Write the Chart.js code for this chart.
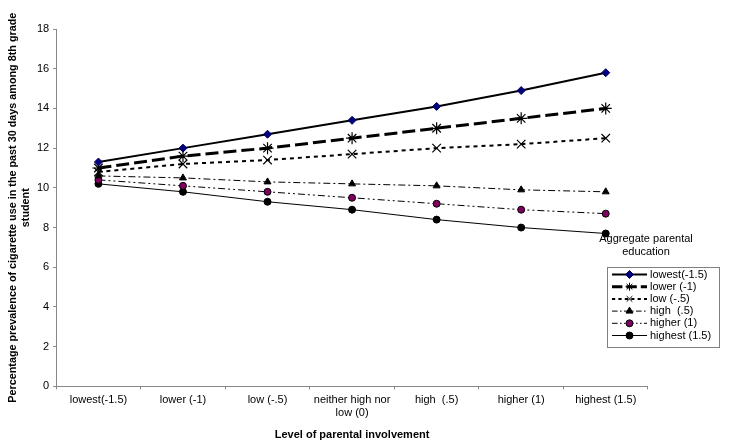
<!DOCTYPE html>
<html>
<head>
<meta charset="utf-8">
<script src="https://cdn.jsdelivr.net/npm/chart.js@4"></script>
<style>
html,body{margin:0;padding:0;background:#fff;}
#wrap{width:729px;height:447px;position:relative;}
</style>
</head>
<body>
<div id="wrap"><canvas id="c"></canvas></div>
<script>
const categories = ["lowest(-1.5)", "lower (-1)", "low (-.5)", ["neither high nor", "low (0)"], "high  (.5)", "higher (1)", "highest (1.5)"];
const seriesNames = ["lowest(-1.5)", "lower (-1)", "low (-.5)", "high  (.5)", "higher (1)", "highest (1.5)"];
const lowestVals  = [11.3, 12.0, 12.7, 13.4, 14.1, 14.9, 15.8];
const lowerVals   = [11.0, 11.6, 12.0, 12.5, 13.0, 13.5, 14.0];
const lowVals     = [10.8, 11.2, 11.4, 11.7, 12.0, 12.2, 12.5];
const highVals    = [10.6, 10.5, 10.3, 10.2, 10.1, 9.9, 9.8];
const higherVals  = [10.4, 10.1, 9.8, 9.5, 9.2, 8.9, 8.7];
const highestVals = [10.2, 9.8, 9.3, 8.9, 8.4, 8.0, 7.7];
const yTitle = ["Percentage prevalence of cigarette use in the past 30 days among 8th grade", "student"];
const xTitle = "Level of parental involvement";
const legendTitle = ["Aggregate parental", "education"];

const FONT = "'Liberation Sans', Arial, sans-serif";

const styles = [
  {borderWidth: 2, borderDash: [], pointStyle: 'rectRot', pointRadius: 4, pointBackgroundColor: '#000080', pointBorderColor: '#000050'},
  {borderWidth: 3, borderDash: [13, 5], pointStyle: 'star', pointRadius: 6, pointBackgroundColor: '#000', pointBorderColor: '#000'},
  {borderWidth: 2, borderDash: [4, 4], pointStyle: 'crossRot', pointRadius: 6, pointBackgroundColor: '#000', pointBorderColor: '#000'},
  {borderWidth: 1, borderDash: [7, 3, 2, 3], pointStyle: 'triangle', pointRadius: 4, pointBackgroundColor: '#000', pointBorderColor: '#000'},
  {borderWidth: 1, borderDash: [7, 3, 2, 3, 2, 3], pointStyle: 'circle', pointRadius: 3.5, pointBackgroundColor: '#800060', pointBorderColor: '#000'},
  {borderWidth: 1, borderDash: [], pointStyle: 'circle', pointRadius: 3.5, pointBackgroundColor: '#000', pointBorderColor: '#000'}
];
const allVals = [lowestVals, lowerVals, lowVals, highVals, higherVals, highestVals];

const datasets = allVals.map((v, i) => Object.assign({
  label: seriesNames[i],
  data: v,
  borderColor: '#000',
  fill: false,
  tension: 0,
  pointBorderWidth: (i === 1 || i === 2) ? 1.2 : 1,
  pointHoverRadius: 4
}, styles[i]));

const customLegend = {
  id: 'customLegend',
  afterDraw(chart) {
    const ctx = chart.ctx;
    const bx = 607, by = 267, bw = 112, bh = 80;
    ctx.save();
    ctx.font = "11px " + FONT;
    ctx.fillStyle = '#000';
    ctx.textAlign = 'center';
    ctx.textBaseline = 'middle';
    ctx.fillText(legendTitle[0], 646, 239);
    ctx.fillText(legendTitle[1], 646, 252);
    ctx.fillStyle = '#fff';
    ctx.fillRect(bx, by, bw, bh);
    ctx.strokeStyle = '#808080';
    ctx.lineWidth = 1;
    ctx.strokeRect(bx + 0.5, by + 0.5, bw, bh);
    chart.data.datasets.forEach((ds, i) => {
      const y = by + 7.5 + i * 12.2;
      const x0 = bx + 5, x1 = bx + 40;
      ctx.save();
      ctx.strokeStyle = ds.borderColor;
      ctx.lineWidth = ds.borderWidth;
      ctx.setLineDash(ds.borderDash.map(d => d * 0.8));
      ctx.beginPath();
      ctx.moveTo(x0, y);
      ctx.lineTo(x1, y);
      ctx.stroke();
      ctx.restore();
      ctx.save();
      ctx.fillStyle = ds.pointBackgroundColor;
      ctx.strokeStyle = ds.pointBorderColor;
      ctx.lineWidth = 1;
      Chart.helpers.drawPoint(ctx, {pointStyle: ds.pointStyle, radius: Math.min(ds.pointRadius, 4), rotation: 0, borderWidth: 1}, (x0 + x1) / 2, y);
      ctx.restore();
      ctx.fillStyle = '#000';
      ctx.textAlign = 'left';
      ctx.textBaseline = 'middle';
      ctx.font = "11px " + FONT;
      ctx.fillText(ds.label, x1 + 3, y);
    });
    ctx.restore();
  }
};

new Chart(document.getElementById('c'), {
  type: 'line',
  data: {labels: categories, datasets: datasets},
  options: {
    responsive: true,
    maintainAspectRatio: false,
    animation: false,
    layout: {padding: {top: 29, right: 81, bottom: 5, left: 7}},
    plugins: {legend: {display: false}, tooltip: {enabled: false}},
    scales: {
      x: {
        type: 'category',
        offset: true,
        grid: {display: true, drawOnChartArea: false, drawTicks: true, tickLength: 3, offset: true, color: '#888'},
        border: {display: true, color: '#888'},
        ticks: {color: '#000', font: {family: FONT, size: 11}, maxRotation: 0, autoSkip: false, padding: 4},
        title: {display: true, text: xTitle, color: '#000', font: {family: FONT, size: 11, weight: 'bold'}, padding: {top: 5, bottom: 0}}
      },
      y: {
        min: 0, max: 18,
        grid: {display: true, drawOnChartArea: false, drawTicks: true, tickLength: 3, color: '#888'},
        border: {display: true, color: '#888'},
        ticks: {stepSize: 2, color: '#000', font: {family: FONT, size: 11}, padding: 4},
        title: {display: true, text: yTitle, color: '#000', font: {family: FONT, size: 10.8, weight: 'bold'}, padding: {top: 0, bottom: 0}}
      }
    }
  },
  plugins: [customLegend]
});
</script>
</body>
</html>
